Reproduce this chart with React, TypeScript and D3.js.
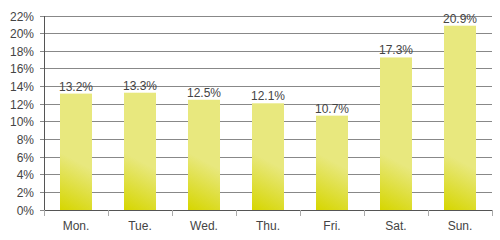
import React from "react";
import * as d3 from "d3";

const categories = ["Mon.", "Tue.", "Wed.", "Thu.", "Fri.", "Sat.", "Sun."];
const values = [13.2, 13.3, 12.5, 12.1, 10.7, 17.3, 20.9];
const yTicks = [0, 2, 4, 6, 8, 10, 12, 14, 16, 18, 20, 22];

export default function App() {
  const W = 500, H = 240;
  const left = 44, right = 492, top = 16, bottom = 210;
  const x = d3.scaleBand<string>().domain(categories).range([left, right]).paddingInner(0.5).paddingOuter(0.25);
  const xb = d3.scaleBand<string>().domain(categories).range([left, right]);
  const y = d3.scaleLinear().domain([0, 22]).range([bottom, top]);
  const font = "'Liberation Sans', Arial, sans-serif";
  const bw = x.bandwidth();
  return (
    <svg width={W} height={H} style={{ position: "absolute", left: 0, top: 0 }} fontFamily={font}>
      <defs>
        {categories.map((c, i) => {
          const x0 = x(c)!;
          return (
            <linearGradient key={c} id={`g${i}`} gradientUnits="userSpaceOnUse" x1={x0} y1={bottom} x2={x0 + bw * 0.75} y2={bottom - 45}>
              <stop offset="0" stopColor="#d6d600" />
              <stop offset="1" stopColor="#e8e87e" />
            </linearGradient>
          );
        })}
      </defs>
      {yTicks.map((t) => (
        <g key={t}>
          <line x1={left - 4} x2={t === 0 ? left : right} y1={y(t)} y2={y(t)} stroke="#888" strokeWidth={1} shapeRendering="crispEdges" />
          <text x={34} y={y(t) + 4.5} textAnchor="end" fontSize={12} fill="#444">{t}%</text>
        </g>
      ))}
      {categories.map((c, i) => (
        <rect key={c} x={x(c)} y={y(values[i])} width={bw} height={bottom - y(values[i])} fill={`url(#g${i})`} />
      ))}
      {categories.map((c, i) => (
        <text key={c} x={x(c)! + bw / 2} y={y(values[i]) - 3} textAnchor="middle" fontSize={12} fill="#444">{values[i]}%</text>
      ))}
      <line x1={left} x2={left} y1={top} y2={bottom} stroke="#555" shapeRendering="crispEdges" />
      <line x1={left} x2={right} y1={bottom} y2={bottom} stroke="#555" shapeRendering="crispEdges" />
      {[...categories.map((c) => xb(c)!), right].map((px, i) => (
        <line key={i} x1={px} x2={px} y1={bottom} y2={bottom + 6} stroke="#aaa" shapeRendering="crispEdges" />
      ))}
      {categories.map((c) => (
        <text key={c} x={xb(c)! + xb.bandwidth() / 2} y={230} textAnchor="middle" fontSize={12} fill="#444">{c}</text>
      ))}
    </svg>
  );
}
